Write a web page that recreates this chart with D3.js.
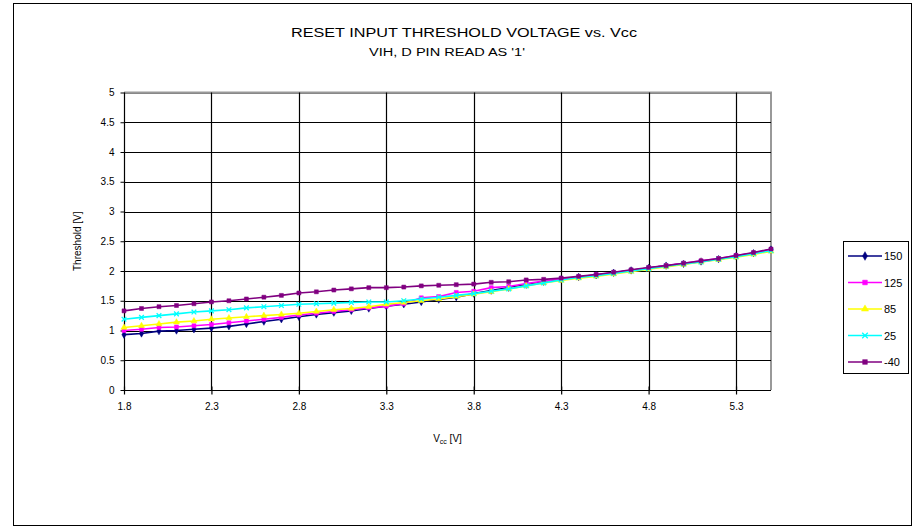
<!DOCTYPE html>
<html lang="en">
<head>
  <meta charset="UTF-8">
  <title>Reset input threshold voltage vs. Vcc</title>
  <style>
    body { margin: 0; background: #fff; }
    text { font-family: "Liberation Sans", Arial, sans-serif; fill: #000; }
  </style>
</head>
<body>

  <svg id="svg" width="914" height="529"></svg>

  <script src="https://cdn.jsdelivr.net/npm/d3@7"></script>
  <script>
    // Vcc steps 1.8 .. 5.5 V
    const vcc = d3.range(18, 56).map(d => d / 10);
    const xTicks = [1.8, 2.3, 2.8, 3.3, 3.8, 4.3, 4.8, 5.3];
    const yTicks = [0, 0.5, 1, 1.5, 2, 2.5, 3, 3.5, 4, 4.5, 5];

    const seriesNames = ['150', '125', '85', '25', '-40'];
    const seriesColors = ['#000080', '#ff00ff', '#ffff00', '#00ffff', '#800080'];
    const seriesMarkers = ['diamond', 'square', 'triangle', 'cross', 'star'];

    const t150 = [0.93, 0.95, 0.99, 1.00, 1.02, 1.04, 1.07, 1.11, 1.15, 1.19, 1.23, 1.27, 1.30, 1.33, 1.37, 1.41, 1.44, 1.48, 1.52, 1.56, 1.62, 1.67, 1.72, 1.77, 1.82,
                  1.86, 1.90, 1.93, 1.97, 2.01, 2.05, 2.09, 2.12, 2.16, 2.20, 2.25, 2.30, 2.36];
    const t125 = [1.00, 1.02, 1.05, 1.06, 1.08, 1.10, 1.13, 1.16, 1.19, 1.22, 1.26, 1.29, 1.32, 1.35, 1.38, 1.41, 1.45, 1.55, 1.57, 1.64, 1.66, 1.72, 1.74, 1.79, 1.83,
                  1.87, 1.90, 1.94, 1.97, 2.01, 2.05, 2.09, 2.13, 2.17, 2.21, 2.26, 2.30, 2.36];
    const t85  = [1.05, 1.08, 1.11, 1.14, 1.16, 1.19, 1.21, 1.23, 1.25, 1.27, 1.29, 1.32, 1.35, 1.37, 1.40, 1.44, 1.47, 1.50, 1.53, 1.57, 1.61, 1.65, 1.70, 1.75, 1.80,
                  1.84, 1.88, 1.91, 1.95, 1.99, 2.03, 2.07, 2.11, 2.15, 2.19, 2.23, 2.28, 2.33];
    const t25  = [1.19, 1.22, 1.25, 1.28, 1.31, 1.33, 1.35, 1.38, 1.40, 1.42, 1.44, 1.45, 1.46, 1.47, 1.48, 1.48, 1.50, 1.53, 1.56, 1.59, 1.62, 1.66, 1.70, 1.75, 1.80,
                  1.85, 1.89, 1.92, 1.96, 2.00, 2.04, 2.08, 2.12, 2.15, 2.20, 2.24, 2.29, 2.34];
    const tm40 = [1.33, 1.37, 1.40, 1.42, 1.45, 1.48, 1.50, 1.53, 1.56, 1.59, 1.63, 1.65, 1.68, 1.70, 1.72, 1.72, 1.73, 1.75, 1.76, 1.77, 1.78, 1.81, 1.82, 1.85, 1.86,
                  1.88, 1.91, 1.94, 1.98, 2.02, 2.06, 2.09, 2.13, 2.17, 2.21, 2.26, 2.31, 2.37];
    const seriesValues = [t150, t125, t85, t25, tm40];

    const svg = d3.select('#svg');

    // outer chart frame
    svg.append('rect')
      .attr('x', 13.5).attr('y', 3.5)
      .attr('width', 898).attr('height', 522)
      .attr('fill', '#fff').attr('stroke', '#000').attr('stroke-width', 1);

    const x = d3.scaleLinear().domain([1.8, 5.5]).range([124, 771]);
    const y = d3.scaleLinear().domain([0, 5]).range([390, 92.5]);

    // titles
    svg.append('text')
      .attr('x', 464).attr('y', 37)
      .attr('text-anchor', 'middle')
      .attr('font-size', 12)
      .attr('textLength', 346).attr('lengthAdjust', 'spacingAndGlyphs')
      .text('RESET INPUT THRESHOLD VOLTAGE vs. Vcc');
    svg.append('text')
      .attr('x', 447).attr('y', 56)
      .attr('text-anchor', 'middle')
      .attr('font-size', 10)
      .attr('textLength', 156).attr('lengthAdjust', 'spacingAndGlyphs')
      .text("VIH, D PIN READ AS '1'");

    // plot border (grey top / right)
    svg.append('path')
      .attr('d', `M${x(1.8)},${y(5)}H${x(5.5)}V${y(0)}`)
      .attr('fill', 'none').attr('stroke', '#999').attr('stroke-width', 2);

    // grid
    const grid = svg.append('g');
    grid.selectAll('line.h')
      .data(yTicks.slice(1, -1).concat([5]))
      .enter().append('line')
      .attr('x1', x(1.8)).attr('x2', x(5.5))
      .attr('y1', d => Math.round(y(d)) + 0.5).attr('y2', d => Math.round(y(d)) + 0.5)
      .attr('stroke', d => d === 5 ? '#888' : '#000').attr('stroke-width', 1.2);
    grid.selectAll('line.v')
      .data(xTicks.slice(1))
      .enter().append('line')
      .attr('x1', d => Math.round(x(d)) + 0.5).attr('x2', d => Math.round(x(d)) + 0.5)
      .attr('y1', y(5)).attr('y2', y(0))
      .attr('stroke', '#000').attr('stroke-width', 1.2);

    // axes
    const xAxis = svg.append('g')
      .attr('transform', `translate(0,${Math.round(y(0)) + 0.5})`)
      .call(d3.axisBottom(x).tickValues(xTicks).tickSize(4).tickPadding(8).tickFormat(d3.format('.1f')));
    xAxis.select('.domain').attr('d', `M${x(1.8)},0H${x(5.5)}`).attr('stroke-width', 1.2);
    xAxis.selectAll('.tick line').attr('y1', -4).attr('stroke-width', 1.2);
    xAxis.selectAll('text').attr('font-size', 10).attr('font-family', '"Liberation Sans", Arial, sans-serif');

    const yAxis = svg.append('g')
      .attr('transform', `translate(${Math.round(x(1.8)) + 0.5},0)`)
      .call(d3.axisLeft(y).tickValues(yTicks).tickSize(4).tickPadding(6).tickFormat(d3.format('')));
    yAxis.select('.domain').attr('d', `M0,${y(5)}V${y(0)}`).attr('stroke-width', 1.2);
    yAxis.selectAll('text').attr('font-size', 10).attr('font-family', '"Liberation Sans", Arial, sans-serif');

    // axis titles
    svg.append('text')
      .attr('transform', `translate(81,${(y(0) + y(5)) / 2}) rotate(-90)`)
      .attr('text-anchor', 'middle')
      .attr('font-size', 10)
      .text('Threshold [V]');

    const xt = svg.append('text')
      .attr('x', (x(1.8) + x(5.5)) / 2).attr('y', 442)
      .attr('text-anchor', 'middle')
      .attr('font-size', 10);
    xt.append('tspan').text('V');
    xt.append('tspan').attr('font-size', 7).attr('dy', 2).text('cc');
    xt.append('tspan').attr('dy', -2).text(' [V]');

    // marker shapes
    const symbolOf = {
      diamond: d3.symbolDiamond,
      square: d3.symbolSquare,
      triangle: d3.symbolTriangle,
      cross: d3.symbolTimes,
      star: d3.symbolSquare
    };

    const line = d3.line()
      .x((d, i) => x(vcc[i]))
      .y(d => y(d));

    seriesValues.forEach((vals, k) => {
      const g = svg.append('g');
      g.append('path')
        .attr('d', line(vals))
        .attr('fill', 'none')
        .attr('stroke', seriesColors[k])
        .attr('stroke-width', 1.6);
      g.selectAll('path.m')
        .data(vals)
        .enter().append('path')
        .attr('transform', (d, i) => `translate(${x(vcc[i])},${y(d)})`)
        .attr('d', d3.symbol().type(symbolOf[seriesMarkers[k]]).size(16))
        .attr('fill', seriesMarkers[k] === 'cross' ? 'none' : seriesColors[k])
        .attr('stroke', seriesColors[k])
        .attr('stroke-width', seriesMarkers[k] === 'cross' ? 1.3 : 0.5);
    });

    // legend
    const legend = svg.append('g');
    legend.append('rect')
      .attr('x', 843.5).attr('y', 241.5)
      .attr('width', 65).attr('height', 132)
      .attr('fill', '#fff').attr('stroke', '#000').attr('stroke-width', 1);
    const ly = d3.scalePoint().domain(seriesNames).range([256, 362]);
    seriesNames.forEach((name, k) => {
      const row = legend.append('g').attr('transform', `translate(0,${ly(name)})`);
      row.append('line')
        .attr('x1', 848).attr('x2', 882)
        .attr('stroke', seriesColors[k]).attr('stroke-width', 1.6);
      row.append('path')
        .attr('transform', 'translate(865,0)')
        .attr('d', d3.symbol().type(symbolOf[seriesMarkers[k]]).size(22))
        .attr('fill', seriesMarkers[k] === 'cross' ? 'none' : seriesColors[k])
        .attr('stroke', seriesColors[k])
        .attr('stroke-width', seriesMarkers[k] === 'cross' ? 1.3 : 0.5);
      row.append('text')
        .attr('x', 884).attr('y', 4)
        .attr('font-size', 11)
        .text(name);
    });
  </script>
</body>
</html>
